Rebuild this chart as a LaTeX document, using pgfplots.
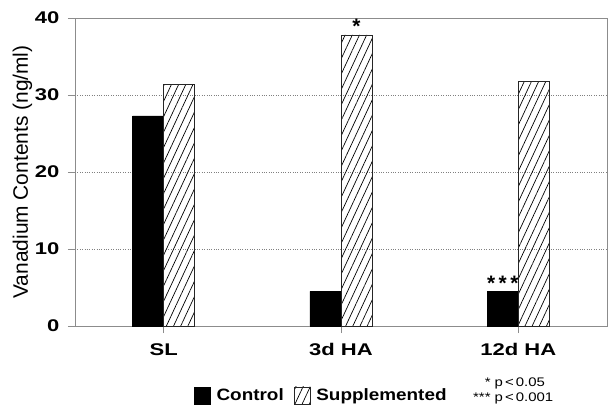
\documentclass[border=0pt]{standalone}
\usepackage{fontspec}
\setmainfont{Liberation Sans}
\newfontfamily\tickfont{Liberation Sans}[FakeStretch=1.3]
\newfontfamily\legfont{Liberation Sans}[FakeStretch=1.15]
\newfontfamily\notefont{Liberation Sans}[FakeStretch=1.2]
\usepackage{pgfplots}
\pgfplotsset{compat=1.18}
\usetikzlibrary{patterns.meta}
\begin{document}
\begin{tikzpicture}
\path[use as bounding box] (0,0) rectangle (608bp,406bp);
\begin{axis}[
  at={(75bp,80bp)}, anchor=south west,
  scale only axis, width=532bp, height=308bp,
  xmin=-0.5, xmax=2.5, ymin=0, ymax=40,
  clip=false,
  xtick={0,1,2}, xticklabels={SL,3d HA,12d HA},
  ytick={0,10,20,30,40},
  axis line style={gray!90, line width=0.7bp},
  tick style={gray!90, line width=0.7bp},
  tick align=outside, tick pos=left,
  major tick length=7bp,
  ymajorgrids, grid style={dotted, gray, line width=0.7bp},
  /pgf/number format/assume math mode=true,
  ticklabel style={font=\tickfont\bfseries\fontsize{17}{19}\selectfont},
  xticklabel style={yshift=-7bp},
  yticklabel style={xshift=-5bp},
  ylabel={Vanadium Contents (ng/ml)},
  ylabel style={font=\fontsize{21}{23}\selectfont},
  ylabel shift=-4bp,
  legend style={at={(axis description cs:0.218,-0.225)}, anchor=west, draw=none, fill=none,
    legend columns=-1, font=\legfont\bfseries\fontsize{16.5}{18}\selectfont,
    /tikz/every odd column/.append style={column sep=4bp},
    /tikz/every even column/.append style={column sep=8bp}},
  legend image code/.code={\draw[#1] (0bp,-8.5bp) rectangle (16bp,8.5bp);},
]
\addplot[ybar, bar width=0.175, bar shift=-0.0875, fill=black, draw=black]
  coordinates {(0,27.3) (1,4.5) (2,4.5)};
\addlegendentry{Control}
\addplot[ybar, bar width=0.175, bar shift=0.0875, draw=black!85, line width=0.6bp,
  pattern={Lines[angle=65, distance=6.5bp, line width=0.7bp]}]
  coordinates {(0,31.4) (1,37.8) (2,31.8)};
\addlegendentry{Supplemented}
\node[font=\bfseries\fontsize{21}{21}\selectfont, above, inner sep=1bp] at (axis cs:1.0875,37.8) {*};
\node[font=\bfseries\fontsize{21}{21}\selectfont, above, inner sep=1bp] at (axis cs:1.9125,4.5) {*\,*\,*};
\node[anchor=north west, inner sep=0pt, font=\notefont\fontsize{12.5}{16}\selectfont]
  at (axis description cs:0.748,-0.159)
  {\begin{tabular}{@{}r@{ }l@{}}{*} & p\,<\,0.05\\[-1bp] {***} & p\,<\,0.001\end{tabular}};
\end{axis}
\end{tikzpicture}
\end{document}
